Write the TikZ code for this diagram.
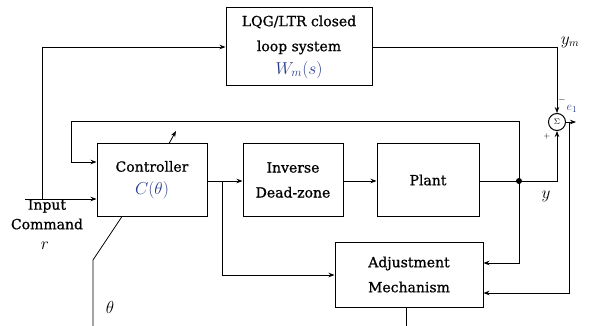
\documentclass[tikz,border=0pt]{standalone}
\usepackage{fontspec}
\setmainfont{DejaVu Serif}[BoldFont={DejaVu Serif},BoldFeatures={FakeBold=0.8}]
\usetikzlibrary{arrows.meta}
\definecolor{mblue}{RGB}{40,60,140}
\begin{document}
\begin{tikzpicture}[x=1pt,y=-1pt,
  box/.style={draw,line width=1pt,rectangle,inner sep=0pt,align=center,font=\fontsize{14}{25}\selectfont\bfseries},
  wire/.style={line width=0.8pt},
  arr/.style={wire,-{Stealth[length=6pt,width=4.5pt]}},
  lbl/.style={inner sep=0pt,font=\fontsize{14}{15}\selectfont\bfseries},
  mlbl/.style={inner sep=0pt,font=\fontsize{16}{18}\selectfont}]
\useasboundingbox (0,0) rectangle (589,326);
\node[box,minimum width=146pt,minimum height=78pt] (lqg) at (299,47) {LQG/LTR closed\\loop system\\[-2pt]\textcolor{mblue}{\fontsize{17}{18}\selectfont$W_m(s)$}};
\node[box,minimum width=110pt,minimum height=73pt] (ctrl) at (152,180) {Controller\\[-2pt]\textcolor{mblue}{\fontsize{17}{18}\selectfont$C(\theta)$}};
\node[box,minimum width=100pt,minimum height=73pt] (inv) at (293,180) {Inverse\\Dead-zone};
\node[box,minimum width=102pt,minimum height=73pt] (plant) at (428,180) {Plant};
\node[box,minimum width=148pt,minimum height=65pt] (adj) at (409,274.5) {Adjustment\\Mechanism};
\node[draw,circle,line width=1pt,minimum size=17pt,inner sep=0pt,font=\footnotesize] (sum) at (557,122) {$\Sigma$};
% labels
\node[lbl] (inlbl1) at (47,206) {Input};
\node[lbl] (inlbl2) at (47,224) {Command};
\node[mlbl] (rlbl) at (45,246) {$r$};
\node[mlbl] (ym) at (570,42) {$y_m$};
\node[mlbl] (ylbl) at (546,196) {$y$};
\node[mlbl] (th) at (110,307) {$\theta$};
\node[mlbl,text=mblue,font=\fontsize{13}{14}\selectfont] (e1) at (572,109) {$e_1$};
\node[mlbl,font=\small] (minus) at (562,100) {$-$};
\node[mlbl,font=\footnotesize] (plus) at (547,137) {$+$};
% coordinates
\coordinate (in) at (25,199);
\coordinate (br) at (42,199);
\coordinate (dot) at (519,181);
\coordinate (cbr) at (222,181);
% input
\draw[arr] (in) -- (in -| ctrl.west);
\draw[arr] (br) -- (42,47) -- (lqg.west |- 0,47);
% reference model to sum
\draw[arr] (lqg.east |- 0,47) -- (557,47) -- (sum.north);
% forward path
\draw[arr] (ctrl.east |- cbr) -- (inv.west |- cbr);
\draw[arr] (cbr) -- (222,275) -- (adj.west |- 0,275);
\draw[arr] (inv.east |- cbr) -- (plant.west |- cbr);
\draw[wire] (plant.east |- dot) -- (dot);
\draw[arr] (dot) -- (557,181) -- (sum.south);
\fill (dot) circle (3pt);
% feedback to controller
\draw[arr] (dot) -- (519,121) -- (71,121) -- (71,162) -- (ctrl.west |- 0,162);
% to adjustment
\draw[arr] (dot) -- (519,263) -- (adj.east |- 0,263);
\draw[arr] (sum.east) -- (576,122);
\draw[arr] (569,122) -- (569,293) -- (adj.east |- 0,293);
% theta path
\draw[wire] (122,216.5) -- (93,260) -- (93,326);
\draw[arr] (169,143.5) -- (176,131);
\draw[wire] (adj.south -| 406,0) -- (406,326);
\end{tikzpicture}
\end{document}
